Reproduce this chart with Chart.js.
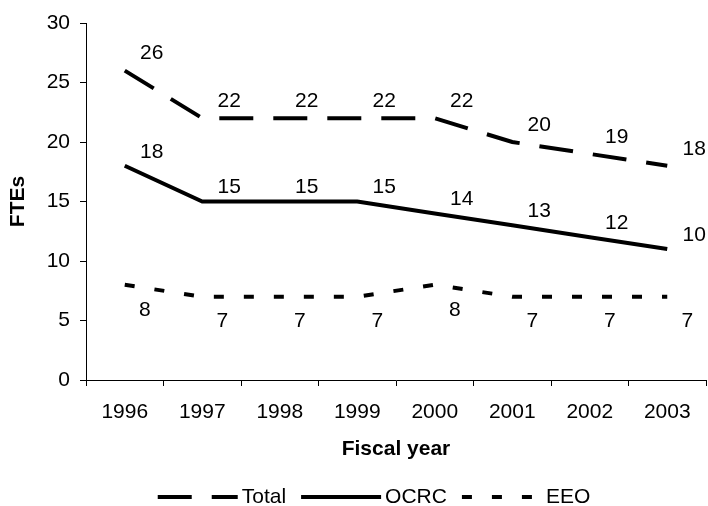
<!DOCTYPE html>
<html>
<head>
<meta charset="utf-8">
<script src="https://cdn.jsdelivr.net/npm/chart.js@4"></script>
<style>
  html, body { margin: 0; padding: 0; background: #fff; }
  #wrap { width: 708px; height: 506px; }
</style>
</head>
<body>
<div id="wrap"><canvas id="fteChart" width="708" height="506"></canvas></div>
<script>
// FTEs by fiscal year
const years = ["1996", "1997", "1998", "1999", "2000", "2001", "2002", "2003"];
const totalFTEs = [26, 22, 22, 22, 22, 20, 19, 18];
const ocrcFTEs = [18, 15, 15, 15, 14, 13, 12, 11];
const eeoFTEs = [8, 7, 7, 7, 8, 7, 7, 7];
// numbers printed beside the points (last OCRC label reads 10)
const totalLabels = [26, 22, 22, 22, 22, 20, 19, 18];
const ocrcLabels = [18, 15, 15, 15, 14, 13, 12, 10];
const eeoLabels = [8, 7, 7, 7, 8, 7, 7, 7];
const yMin = 0, yMax = 30, yStep = 5;

const FONT = "'Liberation Sans', Arial, sans-serif";

const pointLabels = {
  id: "pointLabels",
  afterDatasetsDraw(chart) {
    const ctx = chart.ctx;
    ctx.save();
    ctx.font = "21px " + FONT;
    ctx.fillStyle = "#000";
    ctx.textAlign = "center";
    ctx.textBaseline = "middle";
    chart.data.datasets.forEach((ds, i) => {
      chart.getDatasetMeta(i).data.forEach((pt, j) => {
        ctx.fillText(String(ds.shown[j]), pt.x + ds.labelDx, pt.y + ds.labelDy);
      });
    });
    ctx.restore();
  }
};

// legend drawn by hand so the dash patterns show
const lineLegend = {
  id: "lineLegend",
  afterDraw(chart) {
    const ctx = chart.ctx;
    const lineLen = 80, textGap = 4, itemGap = 15, y = 497;
    ctx.save();
    ctx.font = "21px " + FONT;
    const items = chart.data.datasets.map(ds => ({ ds, w: ctx.measureText(ds.label).width }));
    const total = items.reduce((s, it) => s + lineLen + textGap + it.w, 0) + itemGap * (items.length - 1);
    let x = chart.width / 2 + 20 - total / 2;
    items.forEach(it => {
      ctx.strokeStyle = "#000";
      ctx.lineWidth = 4;
      ctx.lineCap = "butt";
      ctx.setLineDash(it.ds.borderDash);
      ctx.beginPath();
      ctx.moveTo(x, y);
      ctx.lineTo(x + lineLen, y);
      ctx.stroke();
      ctx.setLineDash([]);
      ctx.fillStyle = "#000";
      ctx.textAlign = "left";
      ctx.textBaseline = "middle";
      ctx.fillText(it.ds.label, x + lineLen + textGap, y);
      x += lineLen + textGap + it.w + itemGap;
    });
    ctx.restore();
  }
};

const lineBase = { borderColor: "#000", borderWidth: 4, pointRadius: 0, tension: 0, fill: false, borderCapStyle: "butt" };

new Chart(document.getElementById("fteChart").getContext("2d"), {
  type: "line",
  data: {
    labels: years,
    datasets: [
      { ...lineBase, label: "Total", data: totalFTEs, shown: totalLabels, borderDash: [34, 20], labelDx: 27, labelDy: -17 },
      { ...lineBase, label: "OCRC", data: ocrcFTEs, shown: ocrcLabels, borderDash: [], labelDx: 27, labelDy: -14 },
      { ...lineBase, label: "EEO", data: eeoFTEs, shown: eeoLabels, borderDash: [10, 20], labelDx: 20, labelDy: 25 }
    ]
  },
  options: {
    responsive: false,
    animation: false,
    devicePixelRatio: 1,
    layout: { padding: { left: 0, right: 2, top: 23, bottom: 40 } },
    plugins: {
      tooltip: { enabled: false },
      legend: { display: false }
    },
    scales: {
      x: {
        offset: true,
        grid: { offset: true, drawOnChartArea: false, drawTicks: true, tickLength: 6, color: "#000" },
        border: { display: true, color: "#000", width: 1 },
        ticks: { color: "#000", font: { family: FONT, size: 21 }, padding: 14, maxRotation: 0 },
        title: { display: true, text: "Fiscal year", color: "#000", font: { family: FONT, size: 21, weight: "bold" }, padding: { top: 0, bottom: 4 } },
        afterFit(scale) { scale.height = 86; }
      },
      y: {
        min: yMin,
        max: yMax,
        grid: { drawOnChartArea: false, drawTicks: true, tickLength: 6, color: "#000" },
        border: { display: true, color: "#000", width: 1 },
        ticks: { stepSize: yStep, color: "#000", font: { family: FONT, size: 21 }, padding: 10 },
        title: { display: true, text: "FTEs", color: "#000", font: { family: FONT, size: 21, weight: "bold" }, padding: { top: 6, bottom: 0 } },
        afterFit(scale) { scale.width = 86; }
      }
    }
  },
  plugins: [pointLabels, lineLegend]
});
</script>
</body>
</html>
